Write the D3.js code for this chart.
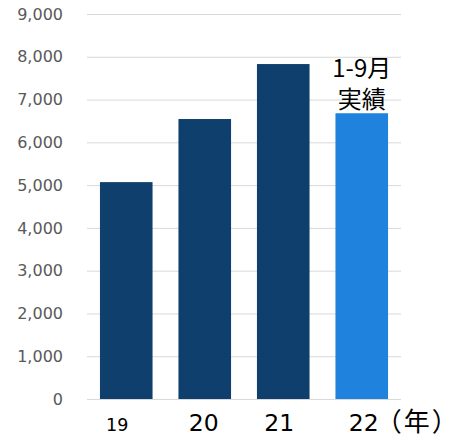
<!DOCTYPE html>
<html>
<head>
<meta charset="utf-8">
<script src="https://cdn.jsdelivr.net/npm/d3@7"></script>
<style>
  html, body { margin: 0; padding: 0; background: #fff; }
  svg { display: block; }
</style>
</head>
<body>
<svg id="chart" width="449" height="436"></svg>
<script>
// Annual results by year (last year covers January–September only)
const years = ["19", "20", "21", "22"];
const values = [5070, 6545, 7830, 6680];
const yTicks = [0, 1000, 2000, 3000, 4000, 5000, 6000, 7000, 8000, 9000];
const yearUnit = "（年）";
const noteLines = ["1-9月", "実績"];

const svg = d3.select("#chart");
const plot = { left: 87, right: 401, top: 14, bottom: 399 };

const x = d3.scaleBand()
  .domain(years)
  .range([plot.left, plot.right])
  .paddingInner(0.33)
  .paddingOuter(0.165);

const y = d3.scaleLinear()
  .domain([0, 9000])
  .range([plot.bottom, plot.top]);

// Horizontal gridlines with value labels on the left
const yAxis = d3.axisLeft(y)
  .tickValues(yTicks)
  .tickSize(-(plot.right - plot.left))
  .tickPadding(24)
  .tickFormat(d3.format(","));

const gy = svg.append("g")
  .attr("transform", `translate(${plot.left},0)`)
  .call(yAxis);
gy.select(".domain").remove();
gy.selectAll(".tick line")
  .attr("stroke", "#d9d9d9")
  .attr("stroke-width", 1);
gy.selectAll(".tick text")
  .attr("fill", "#595959")
  .style("font-family", "'DejaVu Sans', Verdana, sans-serif")
  .style("font-size", "16px");

// Bars: full years in navy, the partial year in bright blue
const lastYear = years[years.length - 1];
svg.append("g")
  .selectAll("rect")
  .data(years.map((yr, i) => ({ yr, v: values[i] })))
  .join("rect")
  .attr("x", d => x(d.yr))
  .attr("y", d => y(d.v))
  .attr("width", x.bandwidth())
  .attr("height", d => y(0) - y(d.v))
  .attr("fill", d => d.yr === lastYear ? "#1f83dd" : "#0f3f6d");

// Year labels under the bars
const labelDx = { "19": -9, "20": -1, "21": -4, "22": 2 };
svg.append("g")
  .selectAll("text")
  .data(years)
  .join("text")
  .attr("x", d => x(d) + x.bandwidth() / 2 + labelDx[d])
  .attr("y", 430.5)
  .attr("text-anchor", "middle")
  .attr("fill", "#000")
  .style("font-family", "'DejaVu Sans', Verdana, sans-serif")
  .style("font-size", (d, i) => i === 0 ? "17.5px" : "23.5px")
  .text(d => d);

// Unit after the last year label
svg.append("text")
  .attr("x", x(lastYear) + x.bandwidth() / 2 + 26)
  .attr("y", 430.5)
  .attr("fill", "#000")
  .style("font-family", "'Noto Sans CJK JP', sans-serif")
  .style("font-size", "26px")
  .style("font-feature-settings", "'palt' 1")
  .style("letter-spacing", "3px")
  .text(yearUnit);

// Note above the partial-year bar, one text element per line
const noteX = x(lastYear) + x.bandwidth() / 2;
const noteBase = y(values[values.length - 1]);
svg.append("g")
  .selectAll("text")
  .data(noteLines)
  .join("text")
  .attr("x", noteX)
  .attr("y", (d, i) => noteBase - 36 + i * 31)
  .attr("text-anchor", "middle")
  .attr("fill", "#000")
  .style("font-family", "'Noto Sans CJK JP', sans-serif")
  .style("font-size", "24px")
  .text(d => d);
</script>
</body>
</html>
